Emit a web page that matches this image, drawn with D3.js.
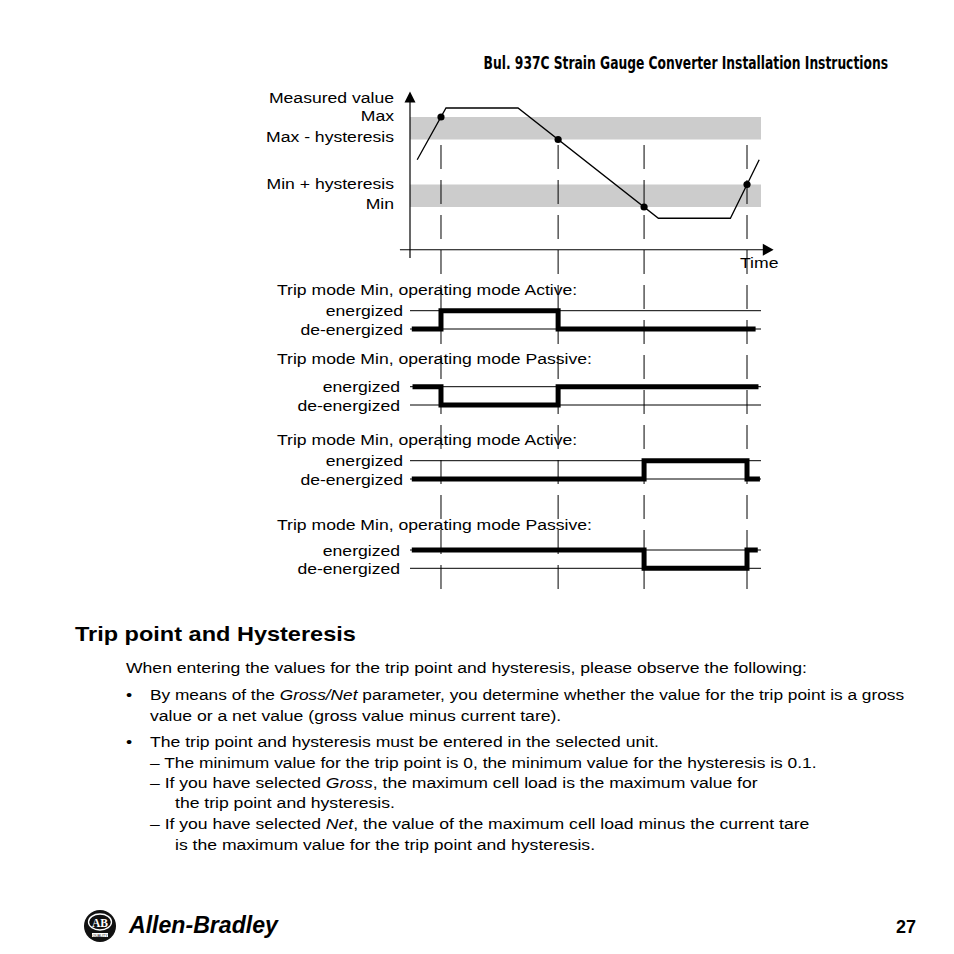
<!DOCTYPE html>
<html>
<head>
<meta charset="utf-8">
<script src="https://cdn.jsdelivr.net/npm/d3@7"></script>
<style>
  html, body { margin: 0; padding: 0; background: #fff; }
  svg text { font-family: "Liberation Sans", Arial, Helvetica, sans-serif; fill: #000; }
</style>
</head>
<body>
<svg id="page" width="954" height="954"></svg>
<script>
// ---------- data ----------
const levelNames  = ["Min", "Min + hysteresis", "Max - hysteresis", "Max"];
const levelValues = [10, 20, 40, 50];
const bands = [[10, 20], [40, 50]];           // hysteresis bands (value from/to)

const curveTime  = [2, 10, 30, 69, 89, 97];
const curveValue = [31, 54, 54, 5, 5, 31];

// trip events: level crossed and direction
const tripLevels = [50, 40, 10, 20];
const tripDirs   = ["up", "down", "down", "up"];

const rowTitles = [
  "Trip mode Min, operating mode Active:",
  "Trip mode Min, operating mode Passive:",
  "Trip mode Min, operating mode Active:",
  "Trip mode Min, operating mode Passive:"
];
const rowStates   = [[0, 1, 0], [1, 0, 1], [0, 1, 0], [1, 0, 1]];
const rowSwitches = [[0, 1], [0, 1], [2, 3], [2, 3]];
const rowStart    = [0.5, 0.7, 0.5, 0.5];
const rowEnd      = [96, 96.8, 97.2, 96.6];
const stateNames  = ["energized", "de-energized"];

const bodyLines = [
  [["When entering the values for the trip point and hysteresis, please observe the following:"]],
  [["By means of the "], ["Gross/Net", "i"], [" parameter, you determine whether the value for the trip point is a gross"]],
  [["value or a net value (gross value minus current tare)."]],
  [["The trip point and hysteresis must be entered in the selected unit."]],
  [["\u2013 The minimum value for the trip point is 0, the minimum value for the hysteresis is 0.1."]],
  [["\u2013 If you have selected "], ["Gross", "i"], [", the maximum cell load is the maximum value for"]],
  [["the trip point and hysteresis."]],
  [["\u2013 If you have selected "], ["Net", "i"], [", the value of the maximum cell load minus the current tare"]],
  [["is the maximum value for the trip point and hysteresis."]]
];
const bodyX     = [126, 150, 150, 150, 150, 150, 175, 150, 175];
const bodyY     = [673, 700, 721, 747, 768, 788, 808, 829, 850];
const bodyFit   = [0, 755, 0, 0, 667, 0, 0, 0, 0];   // lines set tighter in the scan
const bullets   = [1, 3];

// ---------- layout ----------
const SX = 1.135;        // text in the scan is slightly wide
const FS = 15.5;

const svg = d3.select("#page");

const x = d3.scaleLinear().domain([0, 100]).range([410, 770]);
const y = d3.scaleLinear().domain([10, 50]).range([207, 117]);

function txt(g, px, py, parts, o) {
  o = o || {};
  const t = g.append("text")
    .attr("font-size", o.size || FS)
    .attr("text-anchor", o.anchor || "start");
  if (o.weight) t.attr("font-weight", o.weight);
  if (o.family) t.style("font-family", o.family);
  if (typeof parts === "string") parts = [[parts]];
  parts.forEach(p => {
    const s = t.append("tspan").text(p[0]);
    if (p[1] === "i") s.attr("font-style", "italic");
  });
  let sx = o.sx || SX;
  if (o.fit) sx = o.fit / t.node().getComputedTextLength();
  t.attr("transform", "translate(" + px + "," + py + ") scale(" + sx + ",1)");
  return t;
}

// header
txt(svg, 888, 68.5, "Bul. 937C Strain Gauge Converter Installation Instructions",
  {size: 17, weight: "bold", anchor: "end",
   family: "'Liberation Sans Narrow', 'DejaVu Sans Condensed', sans-serif", fit: 405});

// ---------- top chart ----------
const chartG = svg.append("g");

chartG.selectAll("rect.band").data(bands).join("rect")
  .attr("class", "band")
  .attr("x", x(0)).attr("width", x(97.5) - x(0))
  .attr("y", d => y(d[1])).attr("height", d => y(d[0]) - y(d[1]))
  .attr("fill", "#cccccc");

// trip times from the curve
const pts = curveTime.map((t, i) => [t, curveValue[i]]);
const tripTimes = tripLevels.map((lv, k) => {
  for (let i = 0; i < pts.length - 1; i++) {
    const a = pts[i], b = pts[i + 1];
    const ok = tripDirs[k] === "up" ? (a[1] < lv && b[1] >= lv) : (a[1] > lv && b[1] <= lv);
    if (ok) return a[0] + (b[0] - a[0]) * (lv - a[1]) / (b[1] - a[1]);
  }
});

// dashed guides
svg.selectAll("line.guide").data(tripTimes).join("line")
  .attr("class", "guide")
  .attr("x1", d => x(d)).attr("x2", d => x(d))
  .attr("y1", 145).attr("y2", 590)
  .attr("stroke", "#000").attr("stroke-width", 1)
  .attr("stroke-dasharray", "24,11");

// axes
const yAxisTop = 60.5, xAxisVal = -9;
chartG.append("line").attr("x1", x(0)).attr("x2", x(0))
  .attr("y1", 258).attr("y2", y(yAxisTop) + 8)
  .attr("stroke", "#000").attr("stroke-width", 1.2);
chartG.append("path")
  .attr("d", `M${x(0)},${y(yAxisTop) - 2} L${x(0) - 5.5},${y(yAxisTop) + 9} L${x(0) + 5.5},${y(yAxisTop) + 9} Z`)
  .attr("fill", "#000");
chartG.append("line").attr("x1", x(-2.8)).attr("x2", x(99))
  .attr("y1", y(xAxisVal)).attr("y2", y(xAxisVal))
  .attr("stroke", "#000").attr("stroke-width", 1.2);
chartG.append("path")
  .attr("d", `M${x(101)},${y(xAxisVal)} L${x(98)},${y(xAxisVal) - 6} L${x(98)},${y(xAxisVal) + 6} Z`)
  .attr("fill", "#000");

// curve
chartG.append("path")
  .attr("d", d3.line().x(d => x(d[0])).y(d => y(d[1]))(pts))
  .attr("fill", "none").attr("stroke", "#000").attr("stroke-width", 1.3);

chartG.selectAll("circle").data(tripTimes).join("circle")
  .attr("cx", d => x(d))
  .attr("cy", (d, i) => y(tripLevels[i]))
  .attr("r", 3.6).attr("fill", "#000");

// labels left of the y axis
txt(chartG, 394, 103, "Measured value", {anchor: "end"});
levelNames.forEach((n, i) => {
  txt(chartG, 394, y(levelValues[i]) + (i % 2 === 1 ? 4 : 2), n, {anchor: "end"});
});
txt(chartG, 740, 268, "Time");

// ---------- switching traces ----------
const rowLine = [310.7, 386.7, 460.7, 550];
const rowTitleY = [295, 364, 445, 530];
const rowLabelX = [403, 400, 403, 400];
const rowGap = 18.3;

rowTitles.forEach((title, r) => {
  const g = svg.append("g");
  const yS = s => s === 1 ? rowLine[r] : rowLine[r] + rowGap;

  txt(g, 277, rowTitleY[r], title);
  stateNames.forEach((n, k) => {
    txt(g, rowLabelX[r], rowLine[r] + k * rowGap + 5.5, n, {anchor: "end"});
    g.append("line")
      .attr("x1", x(0)).attr("x2", x(97.5))
      .attr("y1", rowLine[r] + k * rowGap).attr("y2", rowLine[r] + k * rowGap)
      .attr("stroke", "#000").attr("stroke-width", 1);
  });

  const st = rowStates[r];
  const tp = [[rowStart[r], st[0]]];
  rowSwitches[r].forEach((e, j) => {
    tp.push([tripTimes[e], st[j]]);
    tp.push([tripTimes[e], st[j + 1]]);
  });
  tp.push([rowEnd[r], st[st.length - 1]]);

  g.append("path")
    .attr("d", d3.line().x(d => x(d[0])).y(d => yS(d[1]))(tp))
    .attr("fill", "none").attr("stroke", "#000")
    .attr("stroke-width", 5).attr("stroke-linejoin", "miter");
});

// ---------- text section ----------
txt(svg, 75, 641, "Trip point and Hysteresis", {size: 21, weight: "bold", fit: 281});

bodyLines.forEach((parts, i) => {
  txt(svg, bodyX[i], bodyY[i], parts, bodyFit[i] ? {fit: bodyFit[i]} : {});
});
bullets.forEach(i => txt(svg, 126, bodyY[i], "\u2022"));

// ---------- footer ----------
const logo = svg.append("g");
logo.append("circle").attr("cx", 100).attr("cy", 926).attr("r", 16).attr("fill", "#111");
logo.append("ellipse").attr("cx", 100).attr("cy", 922).attr("rx", 11.5).attr("ry", 8)
  .attr("fill", "none").attr("stroke", "#fff").attr("stroke-width", 1.3);
logo.append("text").attr("x", 100).attr("y", 926.5).attr("text-anchor", "middle")
  .attr("font-size", 11.5).attr("font-weight", "bold")
  .style("font-family", "'Liberation Serif', serif").style("fill", "#fff").text("AB");
logo.append("rect").attr("x", 92).attr("y", 933).attr("width", 16).attr("height", 4).attr("fill", "#fff");
logo.append("text").attr("x", 100).attr("y", 936.5).attr("text-anchor", "middle")
  .attr("font-size", 3.5).style("fill", "#111").text("QUALITY");

txt(svg, 129, 933, [["Allen-Bradley", "i"]], {size: 24, weight: "bold", fit: 149});
txt(svg, 916, 933, "27", {size: 18, weight: "bold", anchor: "end", sx: 1});
</script>
</body>
</html>
